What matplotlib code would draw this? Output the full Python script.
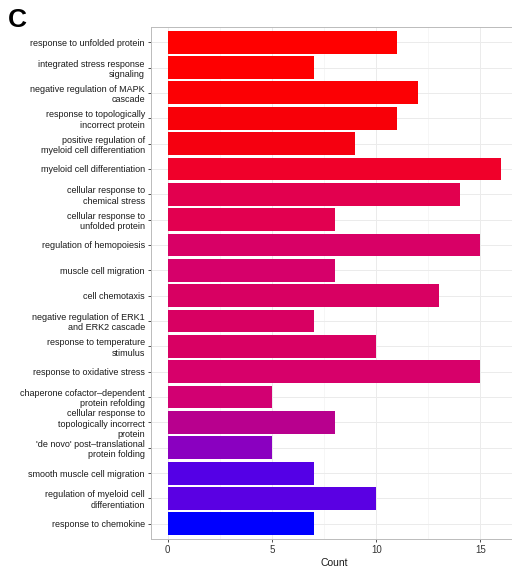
import numpy as np
import matplotlib.pyplot as plt

plt.rcParams['font.family'] = ['Liberation Sans', 'DejaVu Sans']

# GO terms, top to bottom
terms = [
    'response to unfolded protein',
    'integrated stress response\nsignaling',
    'negative regulation of MAPK\ncascade',
    'response to topologically\nincorrect protein',
    'positive regulation of\nmyeloid cell differentiation',
    'myeloid cell differentiation',
    'cellular response to\nchemical stress',
    'cellular response to\nunfolded protein',
    'regulation of hemopoiesis',
    'muscle cell migration',
    'cell chemotaxis',
    'negative regulation of ERK1\nand ERK2 cascade',
    'response to temperature\nstimulus',
    'response to oxidative stress',
    'chaperone cofactor\u2013dependent\nprotein refolding',
    'cellular response to\ntopologically incorrect\nprotein',
    "'de novo' post\u2013translational\nprotein folding",
    'smooth muscle cell migration',
    'regulation of myeloid cell\ndifferentiation',
    'response to chemokine',
]
counts = [11, 7, 12, 11, 9, 16, 14, 8, 15, 8, 13, 7, 10, 15, 5, 8, 5, 7, 10, 7]
# fill colour per term (adjusted p-value scale, red -> blue)
fills = ['#FF0000', '#FE0001', '#FC0004', '#F80008', '#F50010', '#F0002A',
         '#E2004F', '#E20050', '#D80066', '#D6006A', '#D80062', '#D80062',
         '#D80063', '#D7006A', '#D20072', '#B8008E', '#8A00C0', '#5400E6',
         '#5A00E3', '#0000FF']

n = len(terms)
ypos = np.arange(n)[::-1]

fig = plt.figure(figsize=(5.12, 5.68), dpi=100)
ax = fig.add_axes([151 / 512, 29 / 568, 367 / 512, 512 / 568])

ax.barh(ypos, counts, height=0.9, color=fills, zorder=2)

ax.set_xlim(-0.8, 16.8)
ax.set_ylim(-0.6, n - 0.4)
ax.set_xticks([0, 5, 10, 15])
ax.set_xticks([2.5, 7.5, 12.5], minor=True)
ax.set_yticks(ypos)
ax.set_yticklabels(terms, fontsize=6.5, color='#1a1a1a', linespacing=1.2)
ax.tick_params(axis='x', labelsize=7, colors='#333333', length=2.5, width=0.6,
               pad=2, labelcolor='#333333')
ax.tick_params(axis='x', which='minor', length=0)
ax.tick_params(axis='y', length=2.5, width=0.6, colors='#333333', pad=2,
               labelcolor='#1a1a1a')

ax.grid(True, which='major', color='#EBEBEB', linewidth=0.7, zorder=0)
ax.grid(True, which='minor', axis='x', color='#F3F3F3', linewidth=0.5, zorder=0)
ax.set_axisbelow(True)

for side in ['left', 'bottom', 'top', 'right']:
    ax.spines[side].set_color('#BBBBBB')
    ax.spines[side].set_linewidth(0.7)

ax.set_xlabel('Count', fontsize=7.5, color='#1a1a1a', labelpad=2)

fig.text(8 / 512, 1 - 27 / 568, 'C', fontsize=19, fontweight='bold', color='black')

plt.savefig('out.png', dpi=100)
